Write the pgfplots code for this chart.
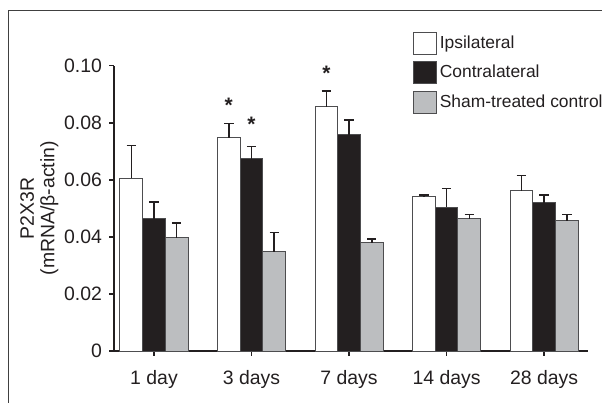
\documentclass[border=0pt]{standalone}
\usepackage{pgfplots}
\pgfplotsset{compat=1.18}
\usepackage{fontspec}
\setmainfont{Liberation Sans}
\definecolor{axblack}{HTML}{231F20}
\definecolor{bargray}{HTML}{BCBEC0}
\definecolor{edgegray}{HTML}{4D4D4F}
\pgfplotstableread{
x y ey
0 0.0605 0.0115
1 0.0747 0.0050
2 0.0856 0.0055
3 0.0540 0.0007
4 0.0562 0.0053
}\ipsi
\pgfplotstableread{
x y ey
0 0.0464 0.0058
1 0.0673 0.0043
2 0.0758 0.0052
3 0.0504 0.0066
4 0.0519 0.0028
}\contra
\pgfplotstableread{
x y ey
0 0.0397 0.0052
1 0.0348 0.0068
2 0.0379 0.0014
3 0.0463 0.0016
4 0.0456 0.0023
}\sham
\begin{document}
\fontsize{17.5}{20}\selectfont
\begin{tikzpicture}
\useasboundingbox (0,0) rectangle (602bp,403bp);
\draw[line width=1.2bp, black!75] (8.6bp,0) -- (8.6bp,392.5bp) -- (602bp,392.5bp);
\begin{axis}[
  at={(114bp,52bp)}, anchor=south west,
  scale only axis, width=474bp, height=285.3bp,
  ymin=0, ymax=0.1, xmin=-0.41, xmax=4.45,
  axis x line=bottom, axis y line=left,
  axis line style={line width=1.6bp, color=axblack, -},
  ybar=0pt, bar width=22.7bp,
  xtick={0,1,2,3,4},
  xticklabels={1 day,3 days,7 days,14 days,28 days},
  ytick={0,0.02,0.04,0.06,0.08,0.1},
  yticklabels={0,0.02,0.04,0.06,0.08,0.10},
  tick align=outside, major tick length=5bp,
  tick style={line width=1.5bp, color=axblack},
  ticklabel style={font=\fontsize{19.5}{22}\selectfont, color=axblack},
  xticklabel style={yshift=-8bp},
  yticklabel style={xshift=-1bp},
  ylabel={P2X3R\\(mRNA/β-actin)},
  ylabel style={align=center, font=\fontsize{19.5}{20.5}\selectfont, color=axblack, yshift=-6bp},
  legend style={at={(0.630,1.119)}, anchor=north west, draw=none, fill=none,
    inner sep=0pt, row sep=6.5bp, font=\fontsize{17.5}{20}\selectfont,
    nodes={inner xsep=3bp, inner ysep=0bp, text=axblack}},
  legend cell align=left,
  legend image code/.code={\draw[#1, line width=1bp] (0bp,-11bp) rectangle (23bp,11bp);},
  clip=false,
  error bars/y dir=plus, error bars/y explicit,
  error bars/error bar style={line width=1.5bp, color=axblack},
  error bars/error mark options={line width=1.5bp, mark size=4.7bp, color=axblack, rotate=90},
]
\addplot[fill=white, draw=edgegray, line width=1bp] table[x=x, y=y, y error=ey] {\ipsi};
\addplot[fill=axblack, draw=edgegray, line width=1bp] table[x=x, y=y, y error=ey] {\contra};
\addplot[fill=bargray, draw=edgegray, line width=1bp] table[x=x, y=y, y error=ey] {\sham};
\legend{Ipsilateral, Contralateral, Sham-treated control}
\node[font=\fontsize{21}{24}\selectfont\bfseries, text=axblack] at (axis cs:0.767,0.0860) {*};
\node[font=\fontsize{21}{24}\selectfont\bfseries, text=axblack] at (axis cs:1,0.0793) {*};
\node[font=\fontsize{21}{24}\selectfont\bfseries, text=axblack] at (axis cs:1.767,0.0975) {*};
\end{axis}
\end{tikzpicture}
\end{document}
